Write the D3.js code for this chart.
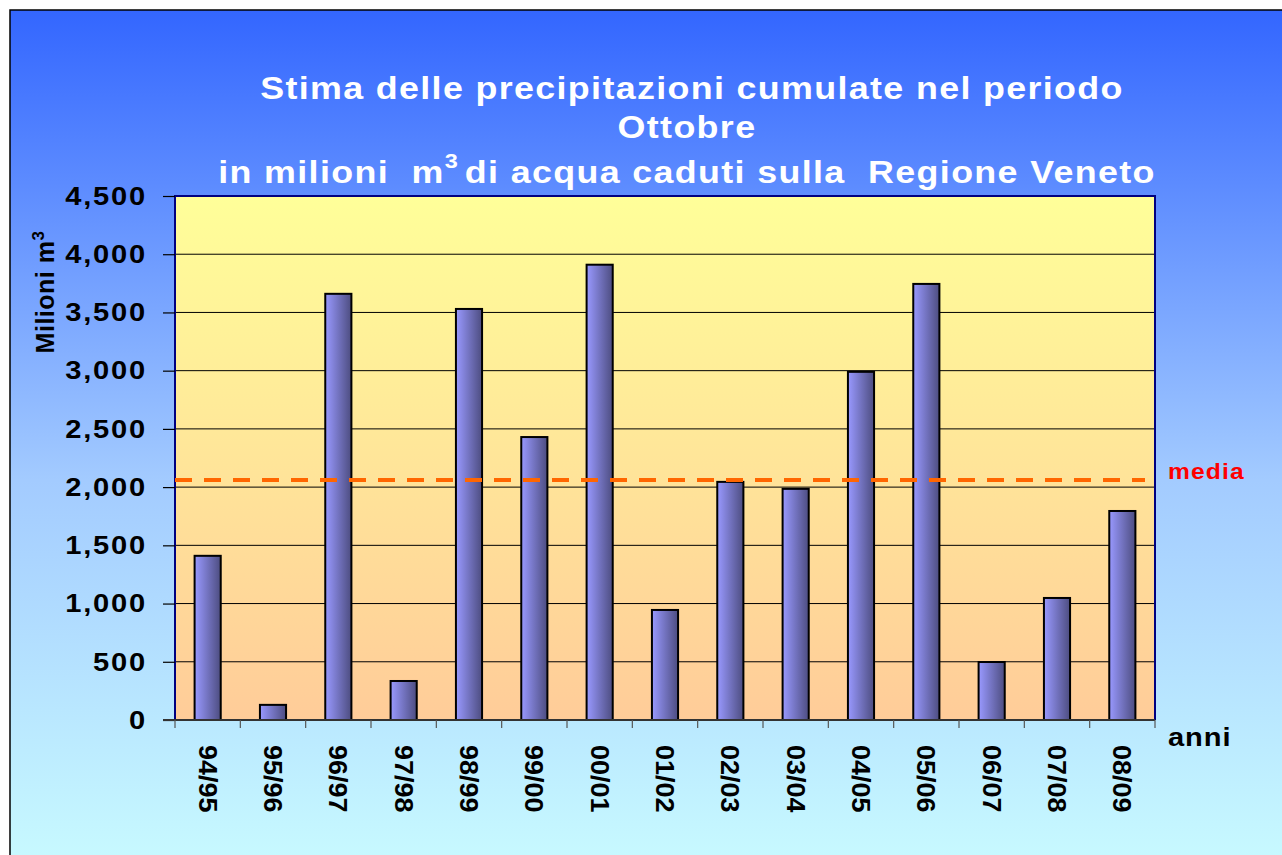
<!DOCTYPE html>
<html>
<head>
<meta charset="utf-8">
<script src="https://cdn.jsdelivr.net/npm/d3@7"></script>
<style>
  body { margin: 0; background: #fff; }
  text { font-family: "Liberation Sans", Arial, sans-serif; font-weight: bold; }
</style>
</head>
<body>
<svg id="chart"></svg>
<script>
// data
const seasons = ["94/95","95/96","96/97","97/98","98/99","99/00","00/01","01/02","02/03","03/04","04/05","05/06","06/07","07/08","08/09"];
const rainfall = [1410, 130, 3660, 335, 3530, 2430, 3910, 945, 2045, 1985, 2990, 3745, 498, 1048, 1795];
const mediaValue = 2060;
const yTicks = [0, 500, 1000, 1500, 2000, 2500, 3000, 3500, 4000, 4500];

const w = 1282, h = 855;
const svg = d3.select("#chart").attr("width", w).attr("height", h);
const margin = { top: 196, right: 127, bottom: 135, left: 175 };
const width = w - margin.left - margin.right;
const height = h - margin.top - margin.bottom;
const stretch = 1.12; // the original font is a bit wider than Liberation Sans

const defs = svg.append("defs");

// outer background
const bg = defs.append("linearGradient").attr("id", "bg")
  .attr("x1", 0).attr("y1", 0).attr("x2", 0).attr("y2", 1);
bg.append("stop").attr("offset", "0%").attr("stop-color", "#3366ff");
bg.append("stop").attr("offset", "55%").attr("stop-color", "#a3cbff");
bg.append("stop").attr("offset", "100%").attr("stop-color", "#c8faff");

const plotBg = defs.append("linearGradient").attr("id", "plotbg")
  .attr("x1", 0).attr("y1", 0).attr("x2", 0).attr("y2", 1);
plotBg.append("stop").attr("offset", "0%").attr("stop-color", "#ffff99");
plotBg.append("stop").attr("offset", "100%").attr("stop-color", "#ffcc99");

const barGrad = defs.append("linearGradient").attr("id", "bargrad")
  .attr("x1", 0).attr("y1", 0).attr("x2", 1).attr("y2", 0);
barGrad.append("stop").attr("offset", "0%").attr("stop-color", "#9999ff");
barGrad.append("stop").attr("offset", "100%").attr("stop-color", "#4d4d80");

svg.append("rect")
  .attr("x", 10).attr("y", 10)
  .attr("width", w).attr("height", h)
  .attr("fill", "url(#bg)")
  .attr("stroke", "#000").attr("stroke-width", 1.5);

const chart = svg.append("g")
  .attr("transform", `translate(${margin.left},${margin.top})`);

const x = d3.scaleBand().domain(seasons).range([0, width]).paddingInner(0.6).paddingOuter(0.3);
const xEdges = d3.scaleBand().domain(seasons).range([0, width]);
const y = d3.scaleLinear().domain([0, 4500]).range([height, 0]);

chart.append("rect")
  .attr("width", width).attr("height", height)
  .attr("fill", "url(#plotbg)");

// gridlines
chart.selectAll(".grid")
  .data(yTicks.filter(d => d > 0 && d < 4500))
  .join("line")
  .attr("x1", 0).attr("x2", width)
  .attr("y1", d => y(d)).attr("y2", d => y(d))
  .attr("stroke", "#000").attr("stroke-width", 1);

// plot border (top, left, right)
chart.append("path")
  .attr("d", `M0,${height}V0H${width}V${height}`)
  .attr("fill", "none").attr("stroke", "#000080").attr("stroke-width", 2);

// bars
chart.selectAll(".bar")
  .data(rainfall)
  .join("rect")
  .attr("x", (d, i) => x(seasons[i]))
  .attr("y", d => y(d))
  .attr("width", x.bandwidth())
  .attr("height", d => height - y(d))
  .attr("fill", "url(#bargrad)")
  .attr("stroke", "#000").attr("stroke-width", 2);

// media line
chart.append("line")
  .attr("x1", 0).attr("x2", width - 10)
  .attr("y1", y(mediaValue)).attr("y2", y(mediaValue))
  .attr("stroke", "#ff6600").attr("stroke-width", 4)
  .attr("stroke-dasharray", "17,12");

svg.append("text")
  .attr("transform", `translate(${margin.left + width + 13},${margin.top + y(mediaValue) - 1}) scale(${stretch},1)`)
  .attr("fill", "#ff0000").attr("font-size", 22)
  .attr("letter-spacing", 1)
  .text("media");

// y axis
const yAxis = chart.append("g")
  .call(d3.axisLeft(y).tickValues(yTicks).tickSize(12).tickPadding(16)
    .tickFormat(d3.format(",")));
yAxis.select(".domain").remove();
yAxis.selectAll(".tick line").attr("stroke", "#000").attr("stroke-width", 1.2);
yAxis.selectAll("text")
  .attr("x", -28 / stretch)
  .attr("transform", `scale(${stretch},1)`)
  .attr("font-size", 26).attr("fill", "#000")
  .attr("font-family", "'Liberation Sans', Arial, sans-serif")
  .attr("font-weight", "bold").attr("letter-spacing", 1.6);

// x axis
chart.append("line")
  .attr("x1", -12).attr("x2", width)
  .attr("y1", height).attr("y2", height)
  .attr("stroke", "#333").attr("stroke-width", 2);

chart.selectAll(".xtick")
  .data(seasons.concat(["end"]))
  .join("line")
  .attr("x1", (d, i) => i < seasons.length ? xEdges(d) : width)
  .attr("x2", (d, i) => i < seasons.length ? xEdges(d) : width)
  .attr("y1", height).attr("y2", height + 8)
  .attr("stroke", "#555").attr("stroke-width", 1.2);

chart.selectAll(".xlabel")
  .data(seasons)
  .join("text")
  .attr("transform", d => `translate(${x(d) + x.bandwidth() / 2},${height + 25}) rotate(90) scale(1.08,1)`)
  .attr("dy", "0.36em")
  .attr("font-size", 25).attr("fill", "#000")
  .text(d => d);

svg.append("text")
  .attr("transform", `translate(1168,746) scale(${stretch},1)`)
  .attr("font-size", 26).attr("fill", "#000")
  .attr("letter-spacing", 0.8)
  .text("anni");

// y axis title
const yTitle = svg.append("text")
  .attr("transform", "translate(54,292) rotate(-90)")
  .attr("text-anchor", "middle")
  .attr("font-size", 25).attr("fill", "#000")
  .attr("letter-spacing", 0.5);
yTitle.append("tspan").text("Milioni m");
yTitle.append("tspan").attr("dy", -10).attr("font-size", 17).text("3");

// title
const titleLine = (cx, cy) => svg.append("text")
  .attr("transform", `translate(${cx},${cy}) scale(${stretch},1)`)
  .attr("text-anchor", "middle").attr("font-size", 32).attr("fill", "#fff")
  .attr("letter-spacing", 1.2)
  .attr("xml:space", "preserve");

titleLine(692, 99).text("Stima delle precipitazioni cumulate nel periodo");
titleLine(687, 138).text("Ottobre");
const t3 = titleLine(687, 183);
t3.append("tspan").text("in milioni  m");
t3.append("tspan").attr("dy", -15).attr("font-size", 21).text("3");
t3.append("tspan").attr("dy", 15).attr("dx", 5).text("di acqua caduti sulla  Regione Veneto");
</script>
</body>
</html>
